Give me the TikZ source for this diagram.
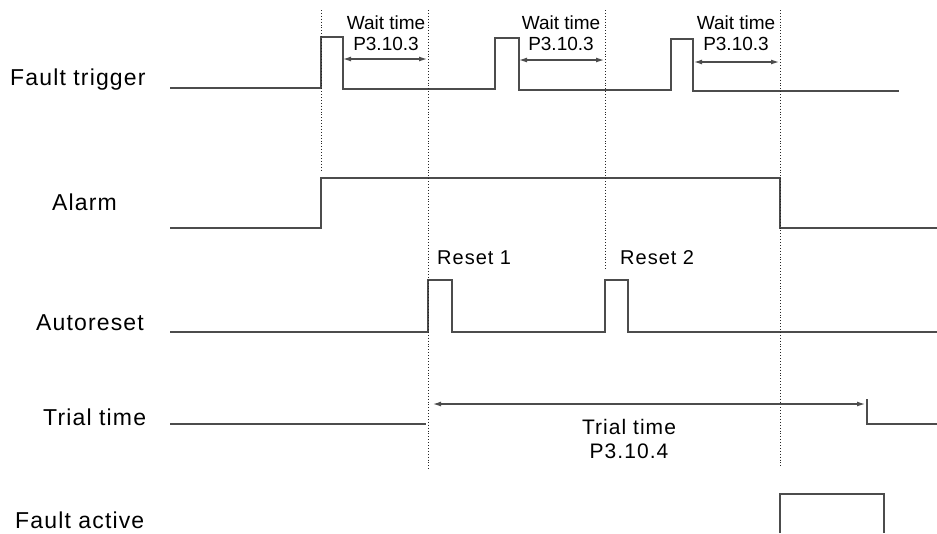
\documentclass[tikz,border=0pt]{standalone}
\usepackage{fontspec}
\setmainfont{Liberation Sans}
\newfontfamily\widefont[LetterSpace=5]{Liberation Sans}
\usetikzlibrary{arrows.meta,positioning}

\begin{document}
\begin{tikzpicture}[x=1pt, y=-1pt,
    sig/.style={draw=black!70, line width=1.4pt},
    guide/.style={draw=black!85, dotted, line width=0.9pt},
    span/.style={draw=black!70, line width=1.2pt, {Latex[length=8pt,width=5pt]}-{Latex[length=8pt,width=5pt]}},
    lbl/.style={anchor=base west, inner sep=0pt, font=\widefont\fontsize{23}{27}\selectfont},
    note/.style={anchor=base, inner sep=0pt, font=\fontsize{19}{22}\selectfont}]
  \useasboundingbox (0,0) rectangle (937,533);

  % signal names
  \node[lbl] (ftlbl) at (10,85) {Fault trigger};
  \node[lbl] (allbl) at (52,210) {Alarm};
  \node[lbl] (arlbl) at (36,330) {Autoreset};
  \node[lbl] (ttlbl) at (43,425) {Trial time};
  \node[lbl] (falbl) at (15,528) {Fault active};

  % waveforms
  \draw[sig] (170,88) -- (321,88) -- (321,37) -- (343,37) -- (343,89) -- (495,89) -- (495,38)
    -- (519,38) -- (519,90) -- (671,90) -- (671,39) -- (693,39) -- (693,91) -- (899,91);
  \draw[sig] (170,228) -- (321,228) -- (321,178) -- (780,178) -- (780,228) -- (937,228);
  \draw[sig] (170,332) -- (428,332) -- (428,280) -- (452,280) -- (452,332) -- (605,332)
    -- (605,280) -- (628,280) -- (628,332) -- (937,332);
  \draw[sig] (170,424) -- (426,424);
  \draw[sig] (867,399) -- (867,424) -- (937,424);
  \draw[sig] (780,533) -- (780,494) -- (884,494) -- (884,533);

  % event markers
  \draw[guide] (321,10) -- (321,172);
  \draw[guide] (428,10) -- (428,470);
  \draw[guide] (605,10) -- (605,270);
  \draw[guide] (780,10) -- (780,467);

  % wait times
  \coordinate (w1a) at (343,59); \coordinate (w1b) at (427,59);
  \coordinate (w2a) at (519,60); \coordinate (w2b) at (604,60);
  \coordinate (w3a) at (694,62); \coordinate (w3b) at (779,62);
  \draw[span] (w1a) -- (w1b);
  \draw[span] (w2a) -- (w2b);
  \draw[span] (w3a) -- (w3b);
  \node[note] (wt1) at (386,29) {Wait time};
  \node[note] (wp1) at (386,50) {P3.10.3};
  \node[note] (wt2) at (561,29) {Wait time};
  \node[note] (wp2) at (561,50) {P3.10.3};
  \node[note] (wt3) at (736,29) {Wait time};
  \node[note] (wp3) at (736,50) {P3.10.3};

  % resets
  \node[note, anchor=base west, font=\widefont\fontsize{20}{24}\selectfont] (rs1) at (437,264) {Reset 1};
  \node[note, anchor=base west, font=\widefont\fontsize{20}{24}\selectfont] (rs2) at (620,264) {Reset 2};

  % trial time
  \coordinate (tta) at (433,404); \coordinate (ttb) at (865,404);
  \draw[span] (tta) -- (ttb);
  \node[note, font=\widefont\fontsize{21}{24}\selectfont] (tt) at (629,434) {Trial time};
  \node[note, font=\widefont\fontsize{21}{24}\selectfont] (tp) at (629,458) {P3.10.4};
\end{tikzpicture}
\end{document}
